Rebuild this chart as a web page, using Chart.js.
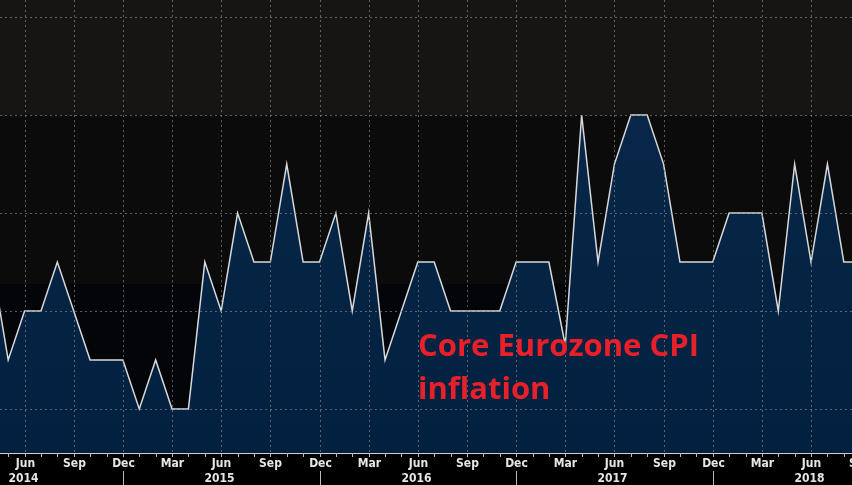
<!DOCTYPE html>
<html>
<head>
<meta charset="utf-8">
<script src="https://cdn.jsdelivr.net/npm/chart.js@4"></script>
<style>
  html, body { margin: 0; padding: 0; background: #000; }
  #wrap { width: 852px; height: 485px; position: relative; }
</style>
</head>
<body>
<div id="wrap"><canvas id="cpiChart"></canvas></div>
<script>
// Месяцы от апреля 2014 (индекс -1) до сентября 2018
const monthNames = ['Jan','Feb','Mar','Apr','May','Jun','Jul','Aug','Sep','Oct','Nov','Dec'];
const startYear = 2014;
const startMonth = 3; // Apr
const cpiValues = [
    0.9, 0.7, 0.8, 0.8, 0.9, 0.8, 0.7, 0.7, 0.7,       // Apr-Dec 2014
    0.6, 0.7, 0.6, 0.6, 0.9, 0.8, 1.0, 0.9, 0.9, 1.1, 0.9, 0.9, // 2015
    1.0, 0.8, 1.0, 0.7, 0.8, 0.9, 0.9, 0.8, 0.8, 0.8, 0.8, 0.9, // 2016
    0.9, 0.9, 0.73, 1.2, 0.9, 1.1, 1.2, 1.2, 1.1, 0.9, 0.9, 0.9, // 2017
    1.0, 1.0, 1.0, 0.8, 1.1, 0.9, 1.1, 0.9, 0.9        // Jan-Sep 2018
];
const gridLevels = [0.6, 0.8, 1.0, 1.2, 1.4];
const titleLines = ['Core Eurozone CPI', 'inflation'];

const points = cpiValues.map((v, i) => ({ x: i - 1, y: v }));

function monthOf(idx) {
    const m = startMonth + 1 + idx; // idx 0 = May 2014
    return { y: startYear + Math.floor(m / 12), m: ((m % 12) + 12) % 12 };
}

// Фон, сетка и подписи
const backdrop = {
    id: 'backdrop',
    beforeDraw(chart) {
        const { ctx, chartArea: a, scales } = chart;
        ctx.save();
        ctx.fillStyle = '#000';
        ctx.fillRect(0, 0, chart.width, chart.height);
        const y12 = scales.y.getPixelForValue(1.2);
        const y085 = scales.y.getPixelForValue(0.855);
        ctx.fillStyle = '#161514';
        ctx.fillRect(a.left, a.top, a.width, y12 - a.top);
        ctx.fillStyle = '#0b0b0c';
        ctx.fillRect(a.left, y12, a.width, y085 - y12);
        ctx.fillStyle = '#030508';
        ctx.fillRect(a.left, y085, a.width, a.bottom - y085);
        ctx.restore();
    },
    afterDatasetsDraw(chart) {
        const { ctx, chartArea: a, scales } = chart;
        ctx.save();
        ctx.strokeStyle = 'rgba(130,130,130,0.7)';
        ctx.lineWidth = 1;
        ctx.setLineDash([2, 3]);
        gridLevels.forEach(v => {
            const y = Math.round(scales.y.getPixelForValue(v)) + 0.5;
            ctx.beginPath(); ctx.moveTo(a.left, y); ctx.lineTo(a.right, y); ctx.stroke();
        });
        for (let i = -1; i <= 52; i++) {
            if (monthOf(i).m % 3 !== 2) continue;
            const x = Math.round(scales.x.getPixelForValue(i)) + 0.5;
            ctx.beginPath(); ctx.moveTo(x, a.top); ctx.lineTo(x, a.bottom); ctx.stroke();
        }
        ctx.setLineDash([]);
        // ось
        ctx.strokeStyle = '#cfcfcf';
        ctx.beginPath(); ctx.moveTo(a.left, a.bottom + 0.5); ctx.lineTo(a.right, a.bottom + 0.5); ctx.stroke();
        ctx.fillStyle = '#e6e6e6';
        ctx.font = 'bold 12px "DejaVu Sans Condensed", "DejaVu Sans", sans-serif';
        ctx.textAlign = 'center';
        ctx.textBaseline = 'middle';
        for (let i = -1; i <= 52; i++) {
            const x = Math.round(scales.x.getPixelForValue(i)) + 0.5;
            const mo = monthOf(i);
            ctx.strokeStyle = '#bbb';
            ctx.beginPath(); ctx.moveTo(x, a.bottom); ctx.lineTo(x, a.bottom + 4); ctx.stroke();
            if (mo.m % 3 === 2) ctx.fillText(monthNames[mo.m], x, a.bottom + 11);
            if (mo.m === 5) ctx.fillText(String(mo.y), Math.max(x - 2, 14), a.bottom + 26);
            if (mo.m === 11) {
                ctx.beginPath(); ctx.moveTo(x, a.bottom + 18); ctx.lineTo(x, chart.height); ctx.stroke();
            }
        }
        // заголовок
        ctx.fillStyle = '#e8202a';
        ctx.font = 'bold 31px "Open Sans", "DejaVu Sans", sans-serif';
        ctx.textAlign = 'left';
        ctx.fillText(titleLines[0], 418, 347);
        ctx.fillText(titleLines[1], 418, 390);
        ctx.restore();
    }
};

const ctx = document.getElementById('cpiChart').getContext('2d');
new Chart(ctx, {
    type: 'line',
    data: {
        datasets: [{
            data: points,
            borderColor: '#d8d8d8',
            borderWidth: 1.5,
            pointRadius: 0,
            tension: 0,
            fill: 'start',
            backgroundColor: (c) => {
                const a = c.chart.chartArea;
                if (!a) return '#0a2246';
                const g = c.chart.ctx.createLinearGradient(0, a.top, 0, a.bottom);
                g.addColorStop(0, '#0a2a4c');
                g.addColorStop(1, '#02203f');
                return g;
            }
        }]
    },
    options: {
        responsive: true,
        maintainAspectRatio: false,
        animation: false,
        layout: { padding: { left: 0, right: 0, top: 0, bottom: 32 } },
        plugins: { legend: { display: false }, tooltip: { enabled: false } },
        scales: {
            x: { type: 'linear', min: -0.5, max: 51.5, display: false },
            y: { min: 0.51, max: 1.435, display: false }
        }
    },
    plugins: [backdrop]
});
</script>
</body>
</html>
